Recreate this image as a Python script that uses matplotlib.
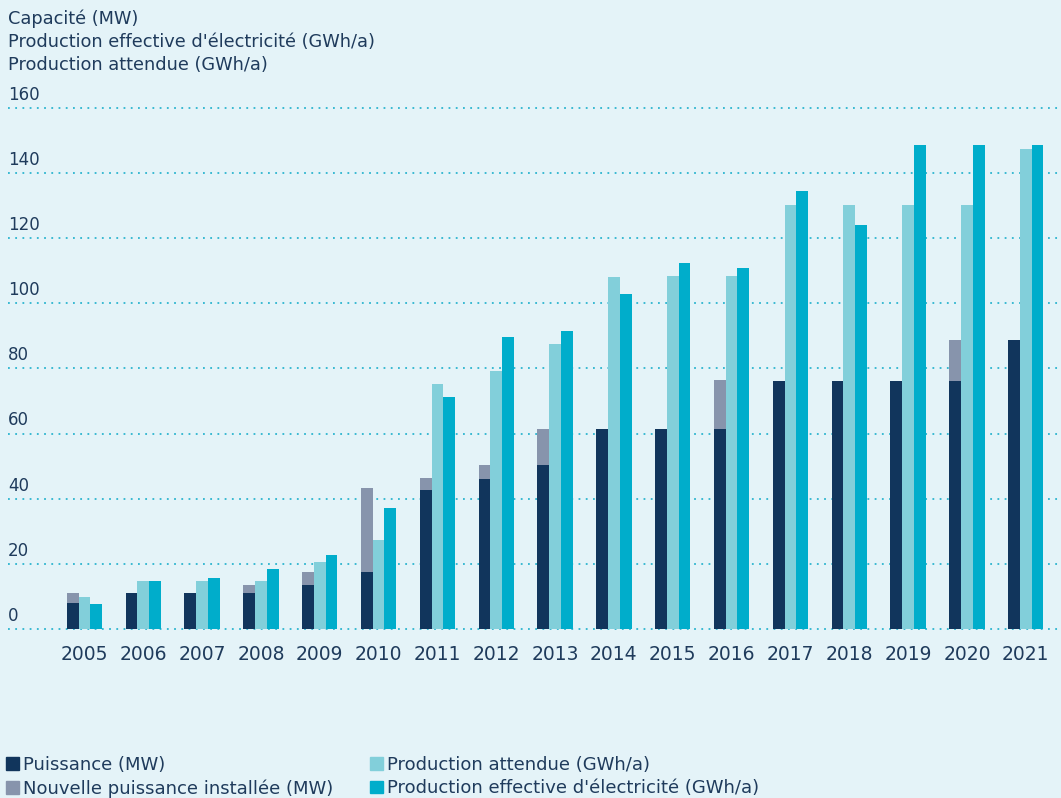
import numpy as np
import matplotlib.pyplot as plt
from matplotlib.patches import Patch

# data
years = ['2005', '2006', '2007', '2008', '2009', '2010', '2011', '2012', '2013',
         '2014', '2015', '2016', '2017', '2018', '2019', '2020', '2021']
puissance = [8.1, 11.1, 11.1, 11.1, 13.4, 17.4, 42.6, 46.0, 50.3, 61.4, 61.4, 61.4,
             76.3, 76.3, 76.3, 76.3, 88.9]
nouvelle = [3.0, 0, 0, 2.3, 4.0, 25.8, 3.7, 4.3, 11.1, 0, 0, 15.1, 0, 0, 0, 12.6, 0]
attendue = [9.9, 14.8, 14.8, 14.8, 20.5, 27.3, 75.2, 79.2, 87.5, 108.1, 108.4, 108.4,
            130.2, 130.2, 130.2, 130.2, 147.5]
effective = [7.7, 14.8, 15.8, 18.3, 22.6, 37.1, 71.2, 89.6, 91.5, 102.9, 112.4, 110.9,
             134.6, 124.1, 148.7, 148.7, 148.7]
yticks = [0, 20, 40, 60, 80, 100, 120, 140, 160]

bg = '#e4f3f8'
navy = '#11355c'
grey = '#8794ac'
light = '#82cfda'
teal = '#00adcb'
txt = '#1f3b5c'

plt.rcParams['font.family'] = ['DejaVu Sans']

W, H = 1061, 798
fig = plt.figure(figsize=(W/100, H/100), dpi=100, facecolor=bg)

# axes placement in pixels
ppu = 521/160.0
ylo, yhi = -2, 162
top_px = 108 - (yhi-160)*ppu
bot_px = 629 + (0-ylo)*ppu
left_px, right_px = 8, 1061
ax = fig.add_axes([left_px/W, 1-bot_px/H, (right_px-left_px)/W, (bot_px-top_px)/H])
ax.set_facecolor(bg)

x = np.arange(len(years))
w = 0.2
ax.bar(x - w, puissance, w, color=navy, zorder=3)
ax.bar(x - w, nouvelle, w, bottom=puissance, color=grey, zorder=3)
ax.bar(x, attendue, w, color=light, zorder=3)
ax.bar(x + w, effective, w, color=teal, zorder=3)

for v in yticks:
    ax.axhline(v, color='#2cb4cf', lw=1.3, ls=(0, (1, 3)), zorder=1)
    ax.text(0, v + 1.3, str(v), transform=ax.get_yaxis_transform(), ha='left',
            va='bottom', fontsize=12, color=txt)

ax.set_xlim(-1.3, 16.6)
ax.set_ylim(ylo, yhi)
ax.set_xticks(x)
ax.set_xticklabels(years, fontsize=13.5, color=txt)
ax.tick_params(axis='x', length=0, pad=7)
ax.set_yticks([])
for s in ax.spines.values():
    s.set_visible(False)

fig.text(8/W, 1-19/H, 'Capacité (MW)', fontsize=12.8, color=txt, va='center')
fig.text(8/W, 1-42/H, "Production effective d'électricité (GWh/a)", fontsize=12.8,
         color=txt, va='center')
fig.text(8/W, 1-65/H, 'Production attendue (GWh/a)', fontsize=12.8, color=txt, va='center')

col1 = [Patch(color=navy, label='Puissance (MW)'),
        Patch(color=grey, label='Nouvelle puissance installée (MW)')]
col2 = [Patch(color=light, label='Production attendue (GWh/a)'),
        Patch(color=teal, label="Production effective d'électricité (GWh/a)")]
for hs, xp in [(col1, 6), (col2, 370)]:
    lg = fig.legend(handles=hs, loc='upper left', bbox_to_anchor=(xp/W, 1-756/H),
                    frameon=False, fontsize=13, labelcolor=txt, handlelength=0.7,
                    handleheight=0.7, handletextpad=0.25, labelspacing=0.3,
                    borderpad=0, borderaxespad=0)

fig.savefig('out.png', dpi=100, facecolor=bg)
